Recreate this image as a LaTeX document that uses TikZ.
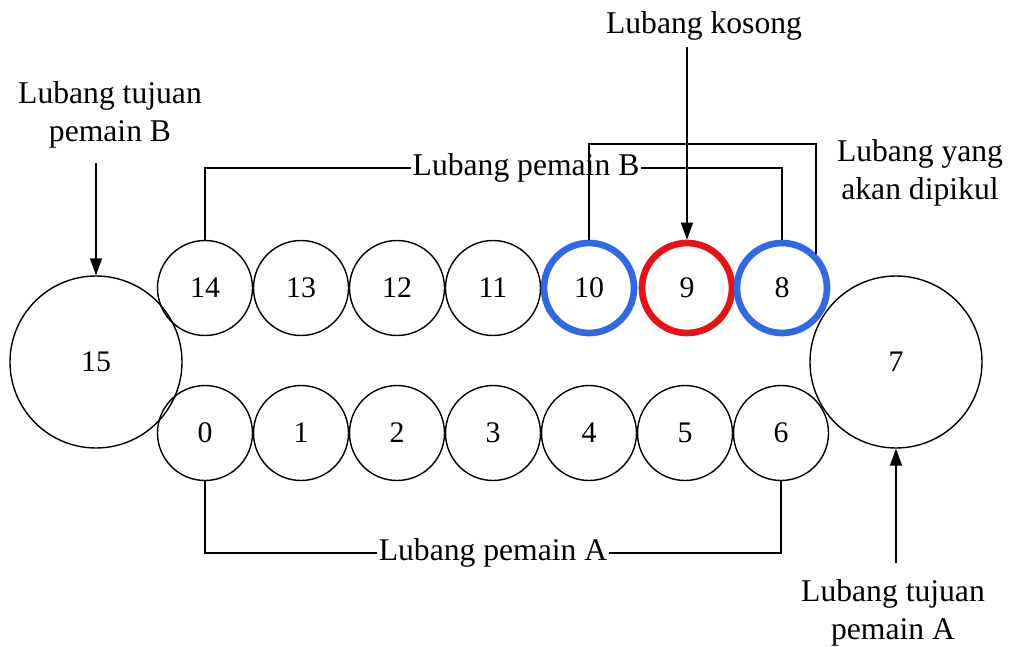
\documentclass[tikz,border=0pt]{standalone}
\usepackage{fontspec}
\setmainfont{Liberation Serif}
\newfontfamily\holefont{Liberation Serif}
\usetikzlibrary{arrows.meta}

\begin{document}
\begin{tikzpicture}
\definecolor{neutralcolor}{RGB}{0,0,0}
\definecolor{pickcolor}{RGB}{50,104,226}
\definecolor{emptycolor}{RGB}{226,20,24}
\tikzset{
  hole/.style={circle,draw=neutralcolor,line width=0.8pt,minimum size=1.9cm,inner sep=0pt,font=\holefont\fontsize{17}{20}\selectfont},
  store/.style={hole,minimum size=3.44cm},
  pickhole/.style={hole,draw=pickcolor,line width=3.8pt,minimum size=1.8cm},
  emptyhole/.style={hole,draw=emptycolor,line width=3.8pt,minimum size=1.8cm},
  caption/.style={inner sep=1pt,align=center,font=\holefont\fontsize{18}{21.5}\selectfont},
  link/.style={thin,neutralcolor,line width=0.8pt},
  pointer/.style={link,-{Triangle[length=0.34cm,width=0.24cm]}}
}
\useasboundingbox (0,0) rectangle (20.18,12.92);
% stores
\node [store] (n15) at (1.92,5.68) {15};
\node [store] (n7) at (17.92,5.68) {7};
% row of player B
\node [hole] (n14) at (4.10,7.16) {14};
\node [hole] (n13) at (6.02,7.16) {13};
\node [hole] (n12) at (7.94,7.16) {12};
\node [hole] (n11) at (9.86,7.16) {11};
\node [pickhole] (n10) at (11.78,7.16) {10};
\node [emptyhole] (n9) at (13.74,7.16) {9};
\node [pickhole] (n8) at (15.64,7.16) {8};
% row of player A
\node [hole] (n0) at (4.10,4.26) {0};
\node [hole] (n1) at (6.02,4.26) {1};
\node [hole] (n2) at (7.94,4.26) {2};
\node [hole] (n3) at (9.86,4.26) {3};
\node [hole] (n4) at (11.78,4.26) {4};
\node [hole] (n5) at (13.70,4.26) {5};
\node [hole] (n6) at (15.62,4.26) {6};
% labels
\node [caption] (pemainB) at (10.52,9.56) {Lubang pemain B};
\node [caption] (pemainA) at (9.86,1.86) {Lubang pemain A};
\node [caption] (kosong) at (14.08,12.40) {Lubang kosong};
\node [caption] (dipikul) at (18.40,9.46) {Lubang yang\\akan dipikul};
\node [caption] (tujuanB) at (2.20,10.62) {Lubang tujuan\\pemain B};
\node [caption] (tujuanA) at (17.86,0.66) {Lubang tujuan\\pemain A};
% brackets
\draw [link] (n14.north) |- (pemainB.west);
\draw [link] (pemainB.east) -| (n8.north);
\draw [link] (n0.south) |- (pemainA.west);
\draw [link] (pemainA.east) -| (n6.south);
\draw [link] (n10.north) -- ++(0,1.91) -| (n8.45);
% arrows
\draw [pointer] ([yshift=-0.1cm]kosong.south -| n9.north) -- (n9.north);
\draw [pointer] ([yshift=-0.25cm]tujuanB.south -| n15.north) -- (n15.north);
\draw [pointer] ([yshift=0.3cm]tujuanA.north -| n7.south) -- (n7.south);
\end{tikzpicture}
\end{document}
